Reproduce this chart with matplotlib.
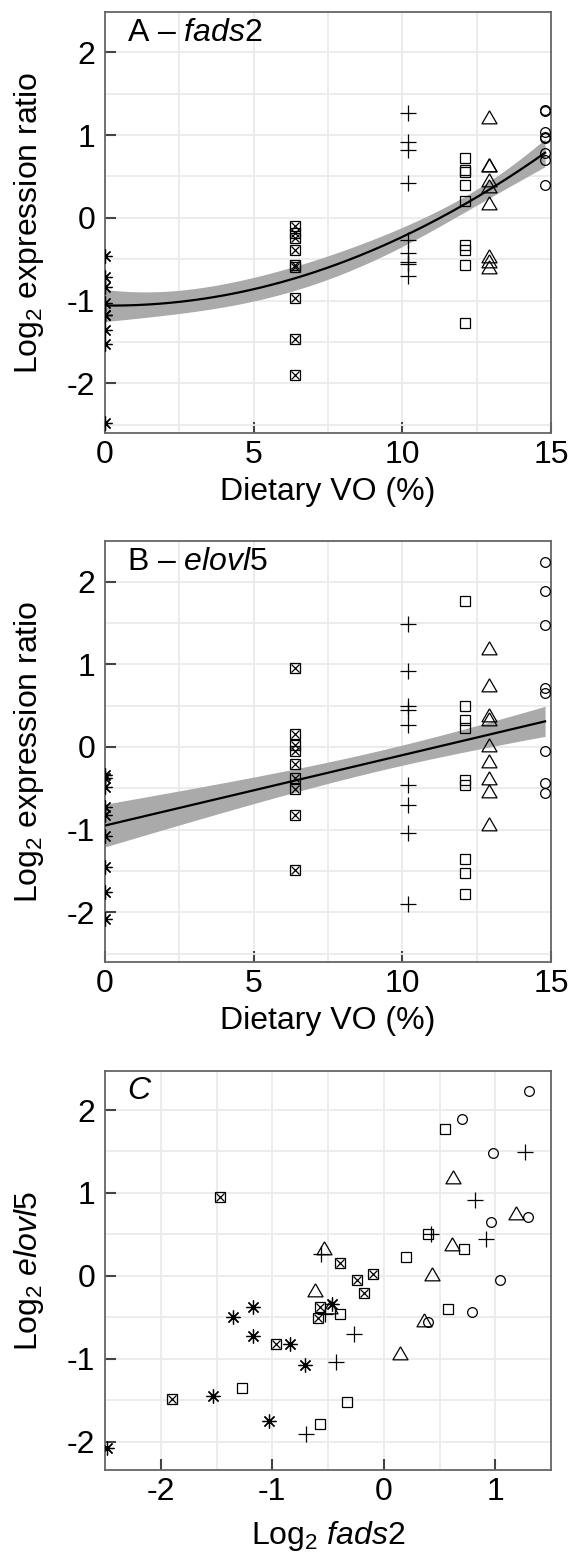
import numpy as np
import matplotlib
matplotlib.use('Agg')
import matplotlib.pyplot as plt
from matplotlib.ticker import MultipleLocator

plt.rcParams['font.family'] = ['Liberation Sans', 'DejaVu Sans']
plt.rcParams['mathtext.fontset'] = 'custom'
plt.rcParams['mathtext.rm'] = 'Liberation Sans'
plt.rcParams['mathtext.it'] = 'Liberation Sans:italic'
plt.rcParams['axes.unicode_minus'] = False

# dietary vegetable oil level of each group (%)
vo_levels = [0, 6.4, 10.2, 12.1, 12.9, 14.8]

# log2 expression ratios, paired per fish (fads2, elovl5)
fads2_vo0 = [-1.35, -1.17, -1.17, -0.84, -0.71, -1.53, -1.03, -0.46, -2.48]
elovl5_vo0 = [-0.49, -0.37, -0.73, -0.82, -1.08, -1.45, -1.75, -0.34, -2.08]
fads2_vo64 = [-1.47, -0.39, -0.10, -0.24, -0.18, -0.57, -0.59, -0.97, -1.90]
elovl5_vo64 = [0.95, 0.16, 0.02, -0.05, -0.21, -0.37, -0.51, -0.82, -1.49]
fads2_vo102 = [1.27, 0.82, 0.92, 0.42, -0.56, -0.27, -0.43, -0.70, -0.53]
elovl5_vo102 = [1.49, 0.92, 0.45, 0.50, 0.27, -0.70, -1.04, -1.90, -0.46]
fads2_vo121 = [0.55, 0.40, 0.72, 0.20, -0.39, 0.58, -1.27, -0.33, -0.57]
elovl5_vo121 = [1.77, 0.50, 0.33, 0.23, -0.46, -0.40, -1.35, -1.52, -1.78]
fads2_vo129 = [0.62, 1.19, 0.61, 0.43, -0.54, -0.62, 0.36, 0.15, -0.48]
elovl5_vo129 = [1.17, 0.73, 0.36, 0.00, 0.31, -0.20, -0.56, -0.95, -0.40]
fads2_vo148 = [1.30, 0.70, 0.98, 0.96, 1.29, 1.04, 0.79, 0.40]
elovl5_vo148 = [2.23, 1.89, 1.48, 0.65, 0.71, -0.05, -0.44, -0.56]

fads2_groups = [fads2_vo0, fads2_vo64, fads2_vo102, fads2_vo121,
                fads2_vo129, fads2_vo148]
elovl5_groups = [elovl5_vo0, elovl5_vo64, elovl5_vo102, elovl5_vo121,
                 elovl5_vo129, elovl5_vo148]

# fitted models: fads2 quadratic, elovl5 linear
fads2_coef = [-1.06, -0.004, 0.0087]
elovl5_coef = [-0.95, 0.0851]
fads2_sigma = 0.30
elovl5_sigma = 0.45

FS = 23
TRI = [(0, 1), (-0.866, -0.5), (0.866, -0.5), (0, 1)]
STYLES = [
    dict(marker=(8, 2, 0), ms=10, mew=0.9),
    dict(marker='s', ms=7.5, mew=0.9),
    dict(marker='+', ms=11, mew=0.9),
    dict(marker='s', ms=7.5, mew=0.9),
    dict(marker=TRI, ms=12.5, mew=0.9),
    dict(marker='o', ms=7, mew=0.9),
]


def draw_points(ax, xs, ys, k):
    st = STYLES[k]
    ax.plot(xs, ys, ls='none', marker=st['marker'], ms=st['ms'],
            mew=st['mew'], mfc='none', mec='black', zorder=4)
    if k == 1:
        ax.plot(xs, ys, ls='none', marker='x', ms=5.5, mew=0.9,
                mec='black', zorder=4)


def fit_band(ax, coef, sigma):
    xd = np.concatenate([[v] * len(g) for v, g in zip(vo_levels, fads2_groups)])
    deg = len(coef) - 1
    X = np.vander(xd, deg + 1, increasing=True)
    cov = np.linalg.inv(X.T @ X) * sigma ** 2
    xs = np.linspace(0, vo_levels[-1], 200)
    V = np.vander(xs, deg + 1, increasing=True)
    yfit = V @ np.array(coef)
    half = 1.96 * np.sqrt(np.einsum('ij,jk,ik->i', V, cov, V))
    ax.fill_between(xs, yfit - half, yfit + half, color='#aaaaaa', lw=0,
                    zorder=2)
    ax.plot(xs, yfit, color='black', lw=1.6, zorder=3)


def style_axes(ax, xlim, ylim, xmajor, xminor):
    ax.set_xlim(*xlim)
    ax.set_ylim(*ylim)
    ax.xaxis.set_major_locator(MultipleLocator(xmajor))
    ax.xaxis.set_minor_locator(MultipleLocator(xminor))
    ax.yaxis.set_major_locator(MultipleLocator(1))
    ax.yaxis.set_minor_locator(MultipleLocator(0.5))
    ax.grid(True, which='both', color='#ebebeb', lw=1.3, zorder=0)
    ax.set_axisbelow(True)
    ax.tick_params(which='major', direction='in', length=8, width=1.5,
                   color='#444444', labelsize=FS, pad=7)
    ax.tick_params(which='minor', length=0, width=0)
    ax.tick_params(axis='x', pad=5)
    for sp in ax.spines.values():
        sp.set_color('#666666')
        sp.set_linewidth(1.3)


fig = plt.figure(figsize=(5.70, 15.64), dpi=100)
L, W = 0.1842, 0.7825
ax_a = fig.add_axes([L, 0.7232, W, 0.2692])
ax_b = fig.add_axes([L, 0.3849, W, 0.2692])
ax_c = fig.add_axes([L, 0.0601, W, 0.2551])

for k, v in enumerate(vo_levels):
    draw_points(ax_a, [v] * len(fads2_groups[k]), fads2_groups[k], k)
    draw_points(ax_b, [v] * len(elovl5_groups[k]), elovl5_groups[k], k)
    draw_points(ax_c, fads2_groups[k], elovl5_groups[k], k)

fit_band(ax_a, fads2_coef, fads2_sigma)
fit_band(ax_b, elovl5_coef, elovl5_sigma)

for ax in (ax_a, ax_b):
    style_axes(ax, (0, 15), (-2.6, 2.49), 5, 2.5)
    ax.set_xlabel('Dietary VO (%)', fontsize=FS, labelpad=5)
    ax.set_ylabel('Log$_2$ expression ratio', fontsize=FS, labelpad=15)
style_axes(ax_c, (-2.5, 1.5), (-2.34, 2.47), 1, 0.5)
ax_c.set_xlabel('Log$_2$ $\\mathit{fads2}$', fontsize=FS, labelpad=9)
ax_c.set_ylabel('Log$_2$ $\\mathit{elovl5}$', fontsize=FS, labelpad=15)

ax_a.text(0.05, 0.95, 'A \u2013 $\\mathit{fads2}$', transform=ax_a.transAxes,
          fontsize=FS, va='center', ha='left')
ax_b.text(0.05, 0.95, 'B \u2013 $\\mathit{elovl5}$', transform=ax_b.transAxes,
          fontsize=FS, va='center', ha='left')
ax_c.text(0.05, 0.95, '$\\mathit{C}$', transform=ax_c.transAxes,
          fontsize=FS, va='center', ha='left')

fig.savefig('out.png', dpi=100)
